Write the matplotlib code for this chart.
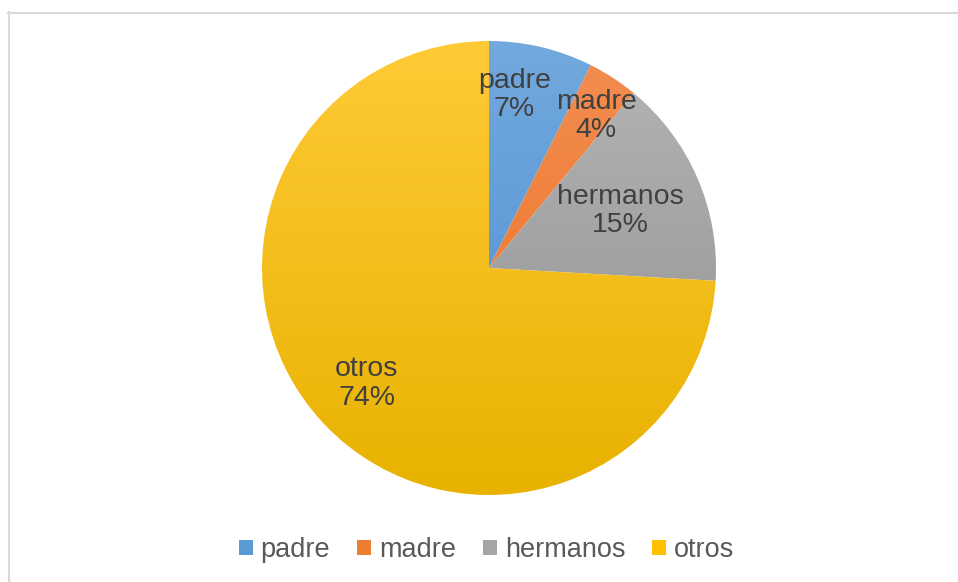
import numpy as np
import matplotlib.pyplot as plt
from matplotlib.colors import LinearSegmentedColormap
from matplotlib.lines import Line2D
from matplotlib.patches import Patch

plt.rcParams['font.family'] = ['Liberation Sans', 'DejaVu Sans']

labels = ['padre', 'madre', 'hermanos', 'otros']
values = [7.4, 3.6, 14.9, 74.1]
pct_text = ['7%', '4%', '15%', '74%']

# gradient colours (top, bottom) like the Excel fill
top_colors = ['#72a9de', '#f28e52', '#b5b5b5', '#ffca36']
bottom_colors = ['#4a8dd0', '#ec6e1c', '#8e8e8e', '#e8b200']
legend_colors = ['#5b9bd5', '#ed7d31', '#a5a5a5', '#ffc000']
# label placement (radius fraction, angle shift in degrees)
label_r = [0.77, 0.82, 0.63, 0.74]
label_shift = [5, -2, 0, 0]

W, H = 958, 582
fig = plt.figure(figsize=(W / 100, H / 100), dpi=100)

# frame lines (top and left only)
fig.add_artist(Line2D([8 / W, 1], [1 - 12.5 / H, 1 - 12.5 / H], color='#d9d9d9', lw=1.5))
fig.add_artist(Line2D([8.5 / W, 8.5 / W], [0, 1 - 12 / H], color='#d9d9d9', lw=1.5))

cx, cy, r = 489, 268, 227
ax = fig.add_axes([(cx - r) / W, 1 - (cy + r) / H, 2 * r / W, 2 * r / H])

wedges, _ = ax.pie(values, startangle=90, counterclock=False, radius=1,
                   wedgeprops=dict(linewidth=0))

grad = np.linspace(0, 1, 256).reshape(-1, 1)
for w, c1, c2 in zip(wedges, top_colors, bottom_colors):
    w.set_alpha(0)
    cmap = LinearSegmentedColormap.from_list('g', [c1, c2])
    im = ax.imshow(grad, cmap=cmap, extent=[-1, 1, -1, 1], origin='upper',
                   aspect='auto', zorder=2)
    im.set_clip_path(w)
ax.set_xlim(-1, 1)
ax.set_ylim(-1, 1)
ax.axis('off')

total = sum(values)
start = 90
for i, v in enumerate(values):
    ang = start - v / total * 360 / 2 + label_shift[i]
    start -= v / total * 360
    x = label_r[i] * np.cos(np.radians(ang))
    y = label_r[i] * np.sin(np.radians(ang))
    ax.text(x, y, labels[i] + '\n' + pct_text[i], ha='center', va='center',
            fontsize=20.5, color='#404040', linespacing=1.12, zorder=5)

handles = [Patch(facecolor=c, edgecolor='none') for c in legend_colors]
fig.legend(handles, labels, loc='center', bbox_to_anchor=(0.508, 1 - 550 / H),
           ncol=4, frameon=False, fontsize=19.5, handlelength=0.5, handleheight=0.5,
           handletextpad=0.3, columnspacing=1.0, labelcolor='#595959')

fig.savefig('out.png', dpi=100)
